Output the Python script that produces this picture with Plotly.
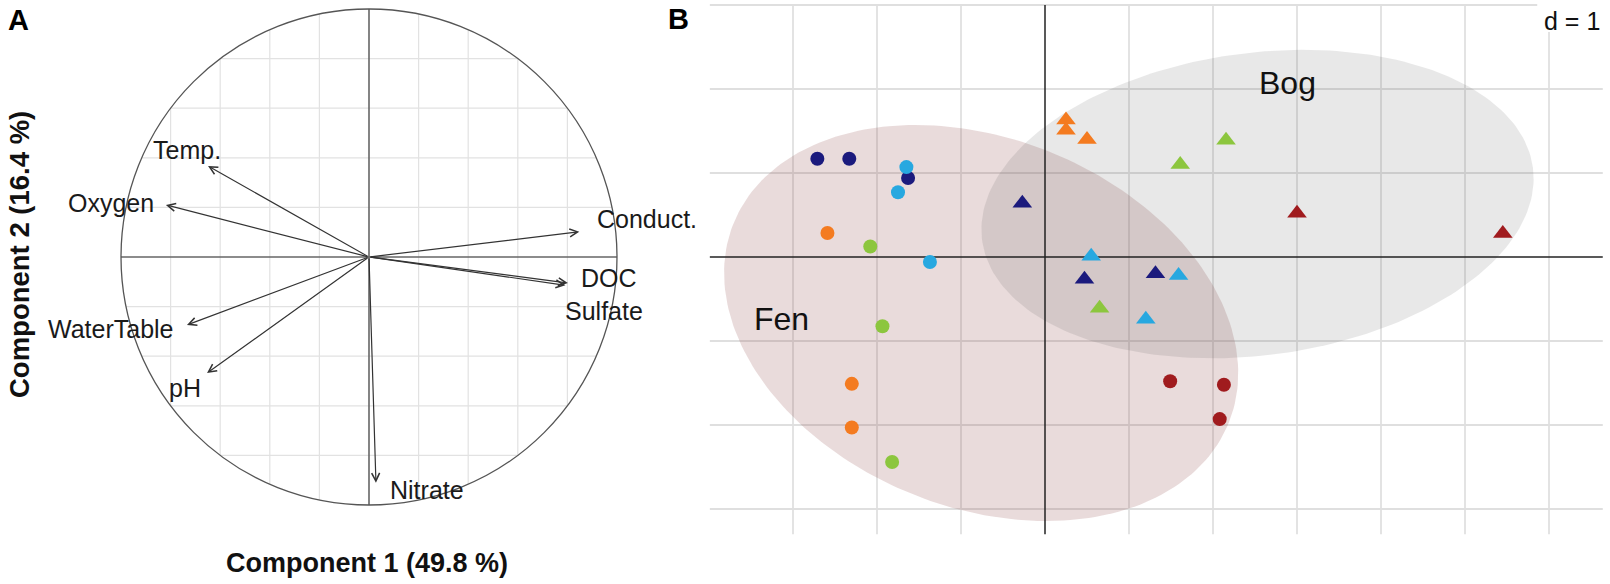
import numpy as np
import plotly.graph_objects as go

# ---------------- DATA ----------------
# Panel A: correlation circle (variable loadings on components 1 and 2)
variables = ["Temp.", "Oxygen", "Conduct.", "DOC", "Sulfate", "WaterTable", "pH", "Nitrate"]
load_x = [-0.649, -0.819, 0.848, 0.802, 0.792, -0.734, -0.653, 0.028]
load_y = [0.367, 0.210, 0.102, -0.105, -0.114, -0.274, -0.468, -0.910]
pc1_var = 49.8
pc2_var = 16.4

# Panel B: site scores, Fen (circles) and Bog (triangles)
sites = ["Site 1", "Site 2", "Site 3", "Site 4", "Site 5"]
site_colors = ["#1b1a7d", "#27a8e0", "#f47b20", "#8cc63e", "#a01b1e"]

fen_site = [0, 0, 0, 1, 1, 1, 2, 2, 2, 3, 3, 3, 4, 4, 4]
fen_x = [-2.71, -2.33, -1.63, -1.65, -1.75, -1.37, -2.59, -2.30, -2.30, -2.08, -1.935, -1.82, 1.49, 2.13, 2.08]
fen_y = [1.17, 1.17, 0.94, 1.07, 0.77, -0.06, 0.285, -1.51, -2.03, 0.125, -0.825, -2.44, -1.48, -1.52, -1.93]

bog_site = [2, 2, 2, 3, 3, 3, 0, 0, 0, 1, 1, 1, 4, 4]
bog_x = [0.25, 0.25, 0.50, 2.155, 1.61, 0.65, -0.27, 0.47, 1.315, 0.55, 1.59, 1.20, 3.00, 5.45]
bog_y = [1.63, 1.51, 1.40, 1.39, 1.10, -0.61, 0.64, -0.265, -0.20, 0.01, -0.22, -0.74, 0.52, 0.28]

# class ellipses: centre x, centre y, semi-axis a, semi-axis b, angle (deg)
groups = ["Fen", "Bog"]
ell_cx = [-0.76, 2.53]
ell_cy = [-0.786, 0.63]
ell_a = [3.178, 3.307]
ell_b = [2.196, 1.80]
ell_ang = [-21.9, 7.5]
grid_d = 1

# ---------------- GEOMETRY / STYLE ----------------
W, H = 1610, 584
A_CX, A_CY, A_S = 369, 257, 248      # panel A centre (px) and px per unit
B_CX, B_CY, B_S = 1045, 257, 84      # panel B origin (px) and px per unit
SPLIT = 660
FONT = "Liberation Sans, Arial, sans-serif"

fig = go.Figure()

# ---------- Panel A ----------
grid_vals = [-0.8, -0.6, -0.4, -0.2, 0.2, 0.4, 0.6, 0.8]
for g in grid_vals:
    h = float(np.sqrt(1 - g * g))
    fig.add_shape(type="line", xref="x", yref="y", x0=g, x1=g, y0=-h, y1=h,
                  line=dict(color="#e2e2e2", width=1.2), layer="below")
    fig.add_shape(type="line", xref="x", yref="y", x0=-h, x1=h, y0=g, y1=g,
                  line=dict(color="#e2e2e2", width=1.2), layer="below")
fig.add_shape(type="line", xref="x", yref="y", x0=-1, x1=1, y0=0, y1=0,
              line=dict(color="#666666", width=1.6), layer="below")
fig.add_shape(type="line", xref="x", yref="y", x0=0, x1=0, y0=-1, y1=1,
              line=dict(color="#666666", width=1.6), layer="below")
fig.add_shape(type="circle", xref="x", yref="y", x0=-1, x1=1, y0=-1, y1=1,
              line=dict(color="#555555", width=1.3), layer="below")

for vx, vy in zip(load_x, load_y):
    fig.add_annotation(x=vx, y=vy, ax=0, ay=0, xref="x", yref="y", axref="x", ayref="y",
                       text="", showarrow=True, arrowhead=5, arrowsize=1.3,
                       arrowwidth=1.2, arrowcolor="#333333", standoff=0)

label_offset = {
    "Temp.": (-0.085, 0.066), "Oxygen": (-0.221, 0.008), "Conduct.": (0.271, 0.050),
    "DOC": (0.164, 0.022), "Sulfate": (0.157, -0.105), "WaterTable": (-0.308, -0.015),
    "pH": (-0.088, -0.061), "Nitrate": (0.207, -0.028),
}
for name, vx, vy in zip(variables, load_x, load_y):
    dx, dy = label_offset[name]
    fig.add_annotation(x=vx + dx, y=vy + dy, xref="x", yref="y", text=name, showarrow=False,
                       font=dict(family=FONT, size=25, color="#1a1a1a"),
                       xanchor="center", yanchor="middle")

fig.add_annotation(x=367 / W, y=1 - 563 / H, xref="paper", yref="paper",
                   text=f"<b>Component 1 ({pc1_var} %)</b>", showarrow=False,
                   font=dict(family=FONT, size=27, color="#111111"),
                   xanchor="center", yanchor="middle")
fig.add_annotation(x=19 / W, y=1 - 255 / H, xref="paper", yref="paper",
                   text=f"<b>Component 2 ({pc2_var} %)</b>", showarrow=False, textangle=-90,
                   font=dict(family=FONT, size=27.5, color="#111111"),
                   xanchor="center", yanchor="middle")
fig.add_annotation(x=18 / W, y=1 - 20 / H, xref="paper", yref="paper", text="<b>A</b>",
                   showarrow=False, font=dict(family=FONT, size=29, color="#000000"),
                   xanchor="center", yanchor="middle")
fig.add_annotation(x=678 / W, y=1 - 19 / H, xref="paper", yref="paper", text="<b>B</b>",
                   showarrow=False, font=dict(family=FONT, size=29, color="#000000"),
                   xanchor="center", yanchor="middle")

# ---------- Panel B ----------
B_XLIM = (-3.99, 6.64)
B_YLIM = (-3.30, 3.00)
for gx in range(-3, 7):
    if gx == 0:
        continue
    fig.add_shape(type="line", xref="x2", yref="y2", x0=gx * grid_d, x1=gx * grid_d,
                  y0=B_YLIM[0], y1=B_YLIM[1], line=dict(color="#dadada", width=1.5), layer="below")
for gy in range(-3, 4):
    if gy == 0:
        continue
    fig.add_shape(type="line", xref="x2", yref="y2", x0=B_XLIM[0], x1=B_XLIM[1],
                  y0=gy * grid_d, y1=gy * grid_d, line=dict(color="#dfdfdf", width=2), layer="below")
# white box behind "d = 1"
fig.add_shape(type="rect", xref="x2", yref="y2", x0=5.86, x1=6.75, y0=2.68, y1=3.2,
              fillcolor="white", line=dict(width=0), layer="below")

fills = ["rgba(145,75,75,0.20)", "rgba(80,80,80,0.13)"]
for i, gname in enumerate(groups):
    t = np.linspace(0, 2 * np.pi, 240)
    th = np.deg2rad(ell_ang[i])
    ex = ell_cx[i] + ell_a[i] * np.cos(t) * np.cos(th) - ell_b[i] * np.sin(t) * np.sin(th)
    ey = ell_cy[i] + ell_a[i] * np.cos(t) * np.sin(th) + ell_b[i] * np.sin(t) * np.cos(th)
    fig.add_trace(go.Scatter(x=ex, y=ey, mode="lines", fill="toself", fillcolor=fills[i],
                             line=dict(width=0), hoverinfo="skip", xaxis="x2", yaxis="y2"))

# axes lines
fig.add_trace(go.Scatter(x=[B_XLIM[0], B_XLIM[1]], y=[0, 0], mode="lines",
                         line=dict(color="#222222", width=1.5), hoverinfo="skip",
                         xaxis="x2", yaxis="y2"))
fig.add_trace(go.Scatter(x=[0, 0], y=[B_YLIM[0], B_YLIM[1]], mode="lines",
                         line=dict(color="#222222", width=1.5), hoverinfo="skip",
                         xaxis="x2", yaxis="y2"))

fig.add_trace(go.Scatter(x=fen_x, y=fen_y, mode="markers", name="Fen",
                         marker=dict(symbol="circle", size=14,
                                     color=[site_colors[s] for s in fen_site], line=dict(width=0)),
                         text=[sites[s] for s in fen_site], xaxis="x2", yaxis="y2"))
fig.add_trace(go.Scatter(x=bog_x, y=bog_y, mode="markers", name="Bog",
                         marker=dict(symbol="triangle-up", size=17,
                                     color=[site_colors[s] for s in bog_site], line=dict(width=0)),
                         text=[sites[s] for s in bog_site], xaxis="x2", yaxis="y2"))

fig.add_annotation(x=2.89, y=2.07, xref="x2", yref="y2", text="Bog", showarrow=False,
                   font=dict(family=FONT, size=32, color="#111111"))
fig.add_annotation(x=-3.14, y=-0.74, xref="x2", yref="y2", text="Fen", showarrow=False,
                   font=dict(family=FONT, size=32, color="#111111"))
fig.add_annotation(x=6.27, y=2.81, xref="x2", yref="y2", text=f"d = {grid_d}", showarrow=False,
                   font=dict(family=FONT, size=25, color="#111111"))

fig.update_layout(
    width=W, height=H, margin=dict(l=0, r=0, t=0, b=0),
    paper_bgcolor="white", plot_bgcolor="rgba(0,0,0,0)", showlegend=False,
    xaxis=dict(domain=[0, SPLIT / W], range=[-A_CX / A_S, (SPLIT - A_CX) / A_S],
               visible=False, fixedrange=True),
    yaxis=dict(domain=[0, 1], range=[(A_CY - H) / A_S, A_CY / A_S], visible=False, fixedrange=True),
    xaxis2=dict(domain=[SPLIT / W, 1], range=[(SPLIT - B_CX) / B_S, (W - B_CX) / B_S],
                visible=False, anchor="y2", fixedrange=True),
    yaxis2=dict(domain=[0, 1], range=[(B_CY - H) / B_S, B_CY / B_S], visible=False,
                anchor="x2", fixedrange=True),
)

fig.write_html("out.html", config={"displayModeBar": False, "staticPlot": True},
               post_script="document.body.style.margin='0px';document.body.style.overflow='hidden';")
